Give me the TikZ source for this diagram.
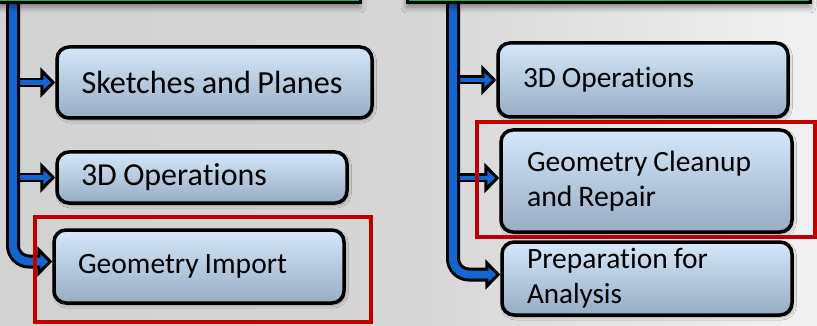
\documentclass[tikz,border=0pt]{standalone}
\usepackage{fontspec}
\usepackage{graphicx}
\setmainfont{Carlito}[Ligatures=NoCommon]
\usetikzlibrary{arrows.meta,shadows.blur,calc}

\DeclareRobustCommand\bigfnt{\fontsize{31.5}{36}\selectfont}
\DeclareRobustCommand\smallfnt{\fontsize{28.5}{35}\selectfont}
% set one line of a label to a given width, with tight word spaces
\newcommand\fitline[2]{\resizebox{#1pt}{!}{\spaceskip=0.2em\relax #2}}

\definecolor{bgL}{HTML}{D2D2D2}
\definecolor{bgM}{HTML}{D6D6D6}
\definecolor{bgR}{HTML}{F0F0F0}
\definecolor{boxtop}{HTML}{D5E7F9}
\definecolor{boxbot}{HTML}{97ADC5}
\definecolor{pipeblue}{HTML}{1565D0}
\definecolor{hdrgreen}{HTML}{22B24C}
\definecolor{markred}{HTML}{C00000}

\tikzset{
  stepbox/.style={draw=black, line width=3.5pt, rounded corners=12pt,
    top color=boxtop, bottom color=boxbot, align=left, inner ysep=0pt,
    blur shadow={shadow xshift=1.5pt, shadow yshift=-2pt,
                 shadow blur radius=3pt, shadow opacity=35}},
  bigtext/.style={font=\bigfnt},
  smalltext/.style={font=\smallfnt},
  header/.style={draw=black, line width=3pt, fill=hdrgreen, inner sep=0pt,
    blur shadow={shadow xshift=0pt, shadow yshift=-4pt,
                 shadow blur radius=6pt, shadow opacity=45}},
  pipeout/.style={line width=14pt, draw=black, rounded corners=16pt},
  pipein/.style={line width=8pt, draw=pipeblue, rounded corners=16pt},
  shaftout/.style={line width=9pt, draw=black},
  shaftin/.style={line width=4.5pt, draw=pipeblue},
  headout/.style={-{Triangle[length=15pt,width=30pt]}},
  headin/.style={-{Triangle[length=8pt,width=14pt]}, shorten >=4pt},
  focus/.style={draw=markred, line width=4.5pt}
}

\begin{document}
\begin{tikzpicture}[x=1pt,y=-1pt]
\useasboundingbox (0,0) rectangle (817,326);
\clip (0,0) rectangle (817,326);

% backdrop
\shade[left color=bgL, right color=bgM] (0,0) rectangle (410,326);
\shade[left color=bgM, right color=bgR] (410,0) rectangle (790,326);
\fill[bgR] (789,0) rectangle (817,326);

% trunk positions
\coordinate (lt) at (13,0);
\coordinate (rt) at (453,0);

% step boxes, left column
\node[stepbox, bigtext, minimum width=315pt, minimum height=71pt,
      text width=266pt, inner xsep=24.5pt] (L1) at (214.5,82.5)
      {\fitline{261}{Sketches and Planes}};
\node[stepbox, bigtext, minimum width=290pt, minimum height=51pt,
      text width=242pt, inner xsep=24pt] (L2) at (202,177.5)
      {\fitline{186}{3D Operations}};
\node[stepbox, bigtext, minimum width=290pt, minimum height=73pt,
      text width=242pt, inner xsep=24pt] (L3) at (199,266.5)
      {\fitline{209}{Geometry Import}};

% step boxes, right column
\node[stepbox, smalltext, minimum width=290pt, minimum height=74pt,
      text width=240pt, inner xsep=25pt] (R1) at (643,80)
      {\fitline{171}{3D Operations}};
\node[stepbox, smalltext, minimum width=291pt, minimum height=102pt,
      text width=239pt, inner xsep=26pt] (R2) at (646.5,181)
      {\fitline{224}{Geometry Cleanup}\\\fitline{129}{and Repair}};
\node[stepbox, smalltext, minimum width=290pt, minimum height=73pt,
      text width=240pt, inner xsep=25pt] (R3) at (647,278.5)
      {\fitline{181}{Preparation for}\\\fitline{95}{Analysis}};

% side branches
\foreach \n in {L1,L2}{
  \draw[shaftout, headout] (lt |- \n.west) -- (\n.west);
  \draw[shaftin, headin] (lt |- \n.west) -- (\n.west);
}
\draw[shaftout, headout] (rt |- R1.west) -- (R1.west);
\draw[shaftin, headin] (rt |- R1.west) -- (R1.west);
\draw[shaftout, headout] ([yshift=3pt]rt |- R2.west) -- ([yshift=3pt]R2.west);
\draw[shaftin, headin] ([yshift=3pt]rt |- R2.west) -- ([yshift=3pt]R2.west);

% trunks, bending into the last branch
\draw[pipeout, headout] (lt) |- ([yshift=5pt]L3.west);
\draw[pipein, headin] (lt) |- ([yshift=5pt]L3.west);
\draw[pipeout, headout] (rt) |- ([yshift=4pt]R3.west);
\draw[pipein, headin] (rt) |- ([yshift=4pt]R3.west);

% green headers above
\node[header, minimum width=380pt, minimum height=43pt] (LH) at (170,-18.5) {};
\node[header, minimum width=403pt, minimum height=43pt] (RH) at (608.5,-18.5) {};

% highlight frames
\draw[focus] (35,217) rectangle (371,322);
\draw[focus] (477,122) rectangle (815,237);
\end{tikzpicture}
\end{document}
